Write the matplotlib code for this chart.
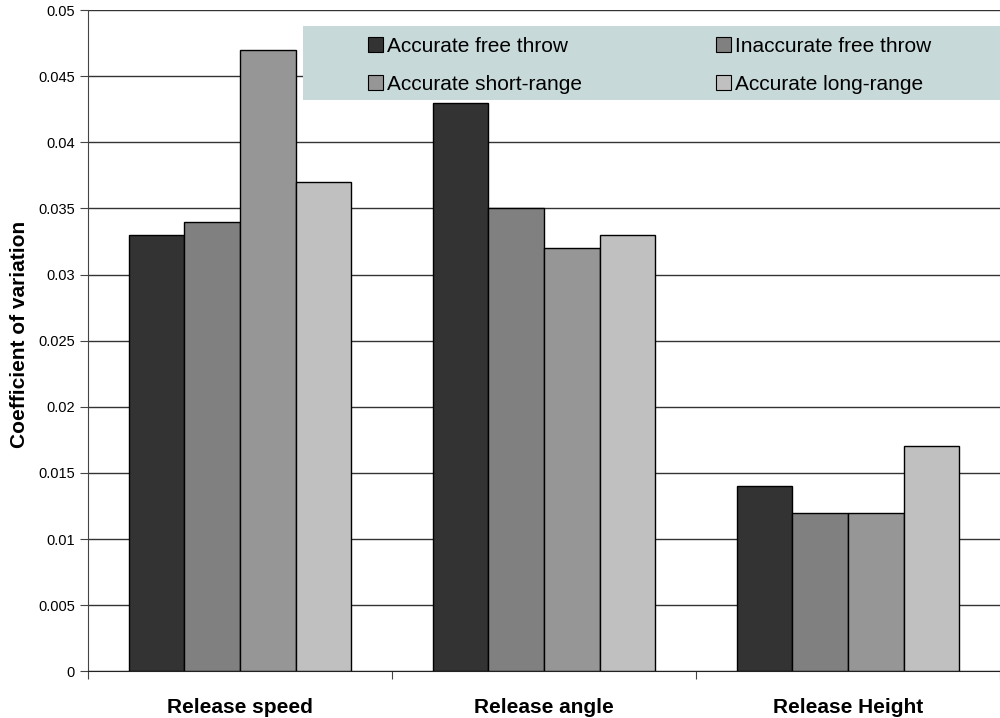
import numpy as np
import matplotlib.pyplot as plt
from matplotlib.patches import Patch, Rectangle

categories = ["Release speed", "Release angle", "Release Height"]
series = ["Accurate free throw", "Inaccurate free throw", "Accurate short-range", "Accurate long-range"]
acc_free = [0.033, 0.043, 0.014]
inacc_free = [0.034, 0.035, 0.012]
acc_short = [0.047, 0.032, 0.012]
acc_long = [0.037, 0.033, 0.017]
colors = ["#333333", "#808080", "#969696", "#c0c0c0"]

plt.rcParams["font.family"] = ["Liberation Sans", "DejaVu Sans"]

fig = plt.figure(figsize=(10, 7.18), dpi=100)
ax = fig.add_axes([0.088, 0.065, 0.912, 0.921])

x = np.arange(len(categories))
w = 0.183
for i, vals in enumerate([acc_free, inacc_free, acc_short, acc_long]):
    ax.bar(x + (i - 1.5) * w, vals, w, color=colors[i], edgecolor="black", linewidth=1, zorder=3)

ax.set_ylim(0, 0.05)
ax.set_yticks(np.arange(0, 0.0501, 0.005))
ax.set_yticklabels(["0", "0.005", "0.01", "0.015", "0.02", "0.025", "0.03", "0.035", "0.04", "0.045", "0.05"], fontsize=10.5)
ax.yaxis.grid(True, color="#333333", linewidth=1, zorder=0)
ax.set_axisbelow(True)

ax.set_xlim(-0.5, 2.48)
ax.set_xticks([-0.5, 0.5, 1.5, 2.5])
ax.set_xticklabels([])
ax.set_xticks(x, minor=True)
ax.set_xticklabels(categories, minor=True, fontsize=15, fontweight="bold")
ax.tick_params(axis="x", which="minor", length=0, pad=19)
ax.tick_params(axis="x", which="major", length=6, color="#444444")
ax.tick_params(axis="y", length=6, color="#444444")

for s in ["top", "right"]:
    ax.spines[s].set_visible(False)
ax.spines["left"].set_color("#444444")
ax.spines["bottom"].set_color("#222222")

ax.set_ylabel("Coefficient of variation", fontsize=15, fontweight="bold")
ax.yaxis.set_label_coords(-0.065, 0.51)

# legend: light teal band across the top, entries filled row by row
fig.patches.append(Rectangle((0.303, 1 - 100 / 718), 0.697, 74 / 718, transform=fig.transFigure,
                             facecolor="#c8d9d9", edgecolor="none", zorder=4))
order = [0, 2, 1, 3]
handles = [Patch(facecolor=colors[k], edgecolor="black", linewidth=0.8) for k in order]
labels = [series[k] for k in order]
leg = fig.legend(handles, labels, ncol=2, loc="upper left", bbox_to_anchor=(0.368, 1 - 37 / 718),
                 fontsize=15, frameon=False, handlelength=0.72, handleheight=0.72, handletextpad=0.2,
                 borderpad=0, labelspacing=0.9, columnspacing=6.4, borderaxespad=0)
leg.set_zorder(5)

fig.savefig("out.png", dpi=100)
